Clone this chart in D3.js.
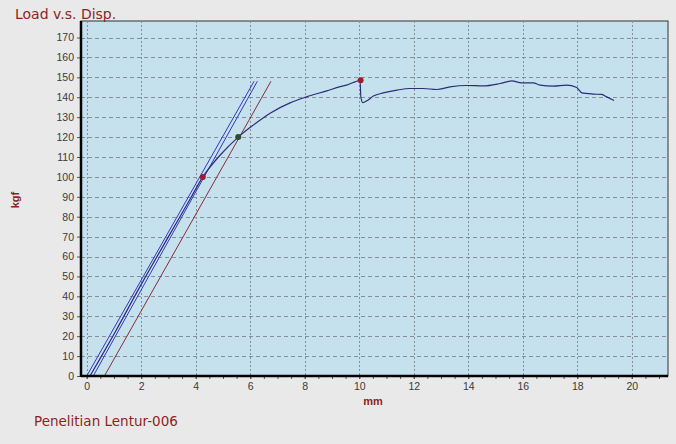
<!DOCTYPE html>
<html><head><meta charset="utf-8">
<script src="https://cdn.jsdelivr.net/npm/d3@7"></script>
<style>
html,body{margin:0;padding:0;background:#e9e9e9;}
svg{display:block;}
</style></head>
<body>
<svg id="chart" width="676" height="444"></svg>
<script>
// ---- data ----
const xTicks = [0,2,4,6,8,10,12,14,16,18,20];
const yTicks = [0,10,20,30,40,50,60,70,80,90,100,110,120,130,140,150,160,170];
const curveX = [0.12,0.5,1,2,3,3.8,4.26,4.9,5.56,6.11,6.73,7.46,8.07,8.81,9.3,9.54,10.03,10.06,10.13,10.28,10.52,10.88,11.38,11.86,12.35,12.84,13.33,13.94,14.55,15.17,15.6,15.96,16.39,16.63,17.12,17.61,17.98,18.17,18.59,18.9,19.08,19.35];
const curveY = [0,9,21,46,70,89,100,111,120,126,132,137.2,140.2,143.2,145.3,146.1,148.4,140,137.3,138.2,140.6,142.2,143.6,144.4,144.4,143.9,145.2,145.9,145.7,146.9,148.2,147.2,147.2,146.1,145.6,146.1,144.9,142.2,141.6,141.4,140.2,138.4];
const blueLine1X = [0.0, 6.14], blueLine1Y = [0, 148];
const blueLine2X = [0.24, 6.26], blueLine2Y = [0, 148];
const offsetLineX = [0.65, 6.76], offsetLineY = [0, 148];
const markPointsX = [4.26, 5.56, 10.05];
const markPointsY = [100, 120, 148.6];
const markColors = ["#9a1c3a", "#2f4a30", "#a01c2c"];

// ---- layout ----
const svg = d3.select("#chart");
const L = 81, R = 668, T = 21, B = 376;
const x = d3.scaleLinear().domain([-0.21, 21.33]).range([L, R]);
const y = d3.scaleLinear().domain([0, 178.3]).range([B, T]);

svg.append("rect").attr("x",0).attr("y",0).attr("width",676).attr("height",444).attr("fill","#e9e9e9");
svg.append("rect").attr("x",L).attr("y",T).attr("width",R-L).attr("height",B-T)
  .attr("fill","#c5e1ed").attr("stroke","#333").attr("stroke-width",1);

// grid
const g = svg.append("g");
g.selectAll("line.hg").data(yTicks.filter(d=>d>0)).enter().append("line")
  .attr("x1",L).attr("x2",R).attr("y1",d=>Math.round(y(d))+0.5).attr("y2",d=>Math.round(y(d))+0.5)
  .attr("stroke","#858f96").attr("stroke-width",1).attr("stroke-dasharray","4,3");
g.selectAll("line.vg").data(xTicks).enter().append("line")
  .attr("y1",T).attr("y2",B).attr("x1",d=>Math.round(x(d))+0.5).attr("x2",d=>Math.round(x(d))+0.5)
  .attr("stroke","#858f96").attr("stroke-width",1).attr("stroke-dasharray","2,2");

// axes
const xAxis = d3.axisBottom(x).tickValues(xTicks).tickSize(3).tickPadding(4).tickFormat(d3.format("d"));
const xMinor = d3.axisBottom(x).tickValues(d3.range(0, 21.01, 0.5)).tickSize(3).tickFormat("");
const yAxis = d3.axisLeft(y).tickValues(yTicks).tickSize(4).tickPadding(3).tickFormat(d3.format("d"));

const gxm = svg.append("g").attr("transform",`translate(0,${B})`).call(xMinor);
const gx = svg.append("g").attr("transform",`translate(0,${B})`).call(xAxis);
const gy = svg.append("g").attr("transform",`translate(${L},0)`).call(yAxis);
[gx,gy,gxm].forEach(a=>{
  a.select(".domain").remove();
  a.selectAll("line").attr("stroke","#555");
  a.selectAll("text").attr("fill","#3a3a3a").style("font-family","'Liberation Sans',Arial,sans-serif").style("font-size","10.5px");
});

// lines
const line = d3.line().x(d=>x(d[0])).y(d=>y(d[1]));
const smooth = d3.line().x(d=>x(d[0])).y(d=>y(d[1])).curve(d3.curveMonotoneX);
svg.append("clipPath").attr("id","clip").append("rect").attr("x",L).attr("y",T).attr("width",R-L).attr("height",B-T);
const plot = svg.append("g").attr("clip-path","url(#clip)");
plot.append("path").datum(d3.zip(offsetLineX, offsetLineY)).attr("d",line).attr("fill","none").attr("stroke","#8a2a3a").attr("stroke-width",1);
plot.append("path").datum(d3.zip(blueLine1X, blueLine1Y)).attr("d",line).attr("fill","none").attr("stroke","#3535c0").attr("stroke-width",1);
plot.append("path").datum(d3.zip(blueLine2X, blueLine2Y)).attr("d",line).attr("fill","none").attr("stroke","#3535c0").attr("stroke-width",1);
plot.append("path").datum(d3.zip(curveX, curveY)).attr("d",smooth).attr("fill","none").attr("stroke","#2c2c78").attr("stroke-width",1.2);

plot.selectAll("circle.mk").data(d3.range(markPointsX.length)).enter().append("circle")
  .attr("cx",i=>x(markPointsX[i])).attr("cy",i=>y(markPointsY[i])).attr("r",3)
  .attr("fill",i=>markColors[i]);

// axis lines (thick)
svg.append("line").attr("x1",L).attr("x2",L).attr("y1",T).attr("y2",B+1).attr("stroke","#000").attr("stroke-width",2.5);
svg.append("line").attr("x1",L).attr("x2",R).attr("y1",B).attr("y2",B).attr("stroke","#000").attr("stroke-width",2.5);

// texts
const red = "#8e1f22";
const titleFont = "'DejaVu Sans',sans-serif";
svg.append("text").attr("x",15).attr("y",19).text("Load v.s. Disp.")
  .attr("fill",red).style("font-family",titleFont).style("font-size","14px");
svg.append("text").attr("x",34).attr("y",426).text("Penelitian Lentur-006")
  .attr("fill",red).style("font-family",titleFont).style("font-size","13.5px");
svg.append("text").attr("transform","translate(19,200) rotate(-90)").attr("text-anchor","middle").text("kgf")
  .attr("fill",red).style("font-family","'Liberation Sans',Arial,sans-serif").style("font-size","11px").style("font-weight","bold");
svg.append("text").attr("x",373).attr("y",405).attr("text-anchor","middle").text("mm")
  .attr("fill",red).style("font-family","'Liberation Sans',Arial,sans-serif").style("font-size","11px").style("font-weight","bold");
</script>
</body></html>
